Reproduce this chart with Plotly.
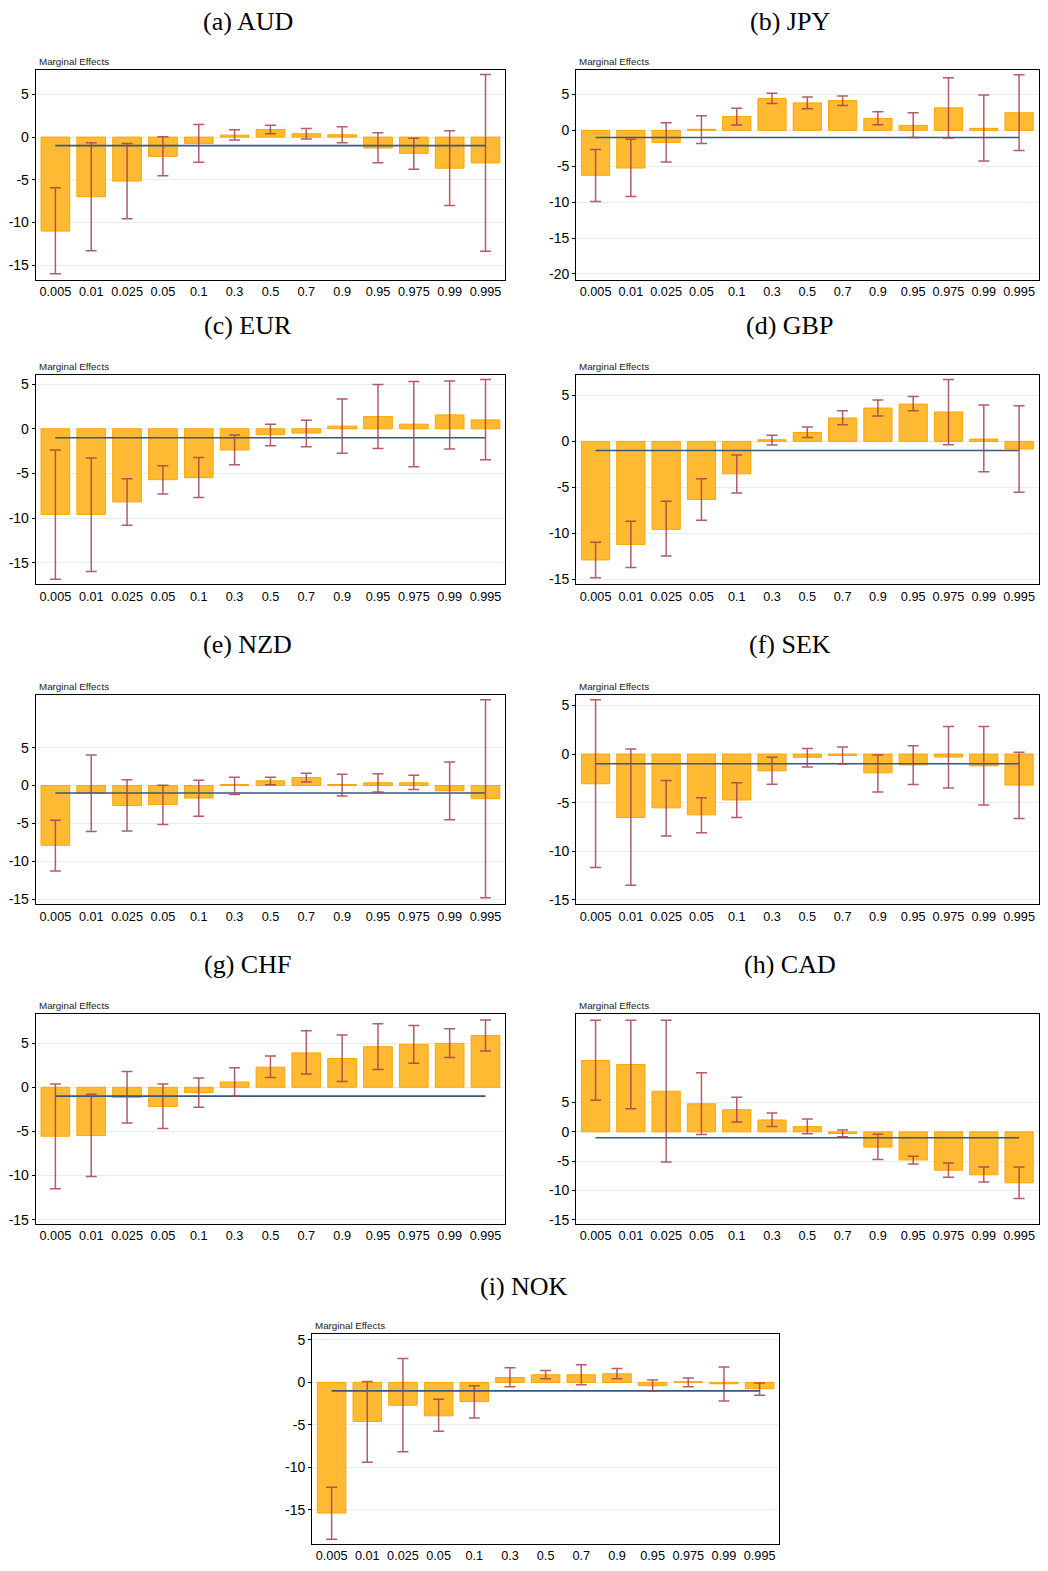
import plotly.graph_objects as go

# Quantiles on the x axis
quantiles = ['0.005', '0.01', '0.025', '0.05', '0.1', '0.3', '0.5',
             '0.7', '0.9', '0.95', '0.975', '0.99', '0.995']

# Marginal effects and confidence bounds
aud_me = [-11.0, -6.98, -5.15, -2.25, -0.74, 0.23, 0.89, 0.39, 0.27, -1.28, -1.9, -3.64, -3.02]
aud_lo = [-16.0, -13.3, -9.57, -4.53, -2.95, -0.35, 0.39, -0.23, -0.66, -3.0, -3.76, -8.02, -13.37]
aud_hi = [-5.93, -0.66, -0.74, 0.04, 1.47, 0.85, 1.40, 1.0, 1.2, 0.5, -0.12, 0.74, 7.33]

jpy_me = [-6.26, -5.25, -1.7, 0.14, 1.93, 4.42, 3.82, 4.14, 1.66, 0.69, 3.13, 0.28, 2.44]
jpy_lo = [-9.9, -9.2, -4.42, -1.84, 0.74, 3.73, 2.99, 3.45, 0.78, -1.01, -1.06, -4.28, -2.81]
jpy_hi = [-2.67, -1.24, 1.06, 2.03, 3.08, 5.16, 4.65, 4.79, 2.58, 2.44, 7.32, 4.93, 7.73]

eur_me = [-9.59, -9.59, -8.19, -5.7, -5.48, -2.37, -0.67, -0.48, 0.3, 1.37, 0.52, 1.56, 1.0]
eur_lo = [-16.85, -16.0, -10.81, -7.3, -7.7, -4.04, -1.89, -2.0, -2.74, -2.22, -4.26, -2.26, -3.48]
eur_hi = [-2.37, -3.26, -5.59, -4.15, -3.22, -0.7, 0.52, 0.96, 3.33, 4.96, 5.3, 5.37, 5.52]

gbp_me = [-12.91, -11.22, -9.57, -6.33, -3.53, 0.18, 0.97, 2.55, 3.63, 4.06, 3.2, 0.25, -0.83]
gbp_lo = [-14.86, -13.74, -12.48, -8.6, -5.61, -0.4, 0.43, 1.8, 2.77, 3.35, -0.36, -3.31, -5.54]
gbp_hi = [-10.97, -8.71, -6.51, -4.06, -1.47, 0.68, 1.58, 3.35, 4.5, 4.89, 6.73, 3.96, 3.88]

nzd_me = [-7.9, -1.0, -2.66, -2.53, -1.66, 0.13, 0.61, 1.05, 0.13, 0.35, 0.35, -0.7, -1.75]
nzd_lo = [-11.31, -6.07, -6.03, -5.15, -4.06, -1.18, 0.09, 0.44, -1.4, -0.87, -0.52, -4.54, -14.85]
nzd_hi = [-4.59, 4.02, 0.74, 0.04, 0.7, 1.09, 1.09, 1.62, 1.48, 1.53, 1.35, 3.1, 11.31]

sek_me = [-3.06, -6.53, -5.54, -6.26, -4.73, -1.73, -0.34, -0.14, -1.94, -1.12, -0.31, -1.22, -3.2]
sek_lo = [-11.67, -13.5, -8.44, -8.1, -6.53, -3.1, -1.33, -1.02, -3.91, -3.13, -3.5, -5.24, -6.63]
sek_hi = [5.58, 0.51, -2.72, -4.49, -2.96, -0.34, 0.58, 0.71, -0.1, 0.85, 2.82, 2.82, 0.17]

chf_me = [-5.54, -5.47, -1.16, -2.17, -0.6, 0.6, 2.28, 3.9, 3.26, 4.6, 4.87, 4.98, 5.88]
chf_lo = [-11.5, -10.1, -4.04, -4.68, -2.25, -1.01, 1.12, 1.5, 0.67, 2.02, 2.73, 3.37, 4.12]
chf_hi = [0.37, -0.79, 1.8, 0.37, 1.05, 2.21, 3.56, 6.4, 5.92, 7.19, 7.0, 6.63, 7.64]

cad_me = [12.17, 11.49, 6.93, 4.79, 3.77, 2.03, 0.9, -0.28, -2.59, -4.79, -6.54, -7.32, -8.68]
cad_lo = [5.41, 3.94, -5.13, -0.45, 1.69, 0.9, -0.34, -0.85, -4.73, -5.46, -7.72, -8.56, -11.38]
cad_hi = [19.04, 19.04, 19.04, 10.08, 5.92, 3.21, 2.2, 0.34, -0.39, -4.17, -5.3, -5.97, -5.97]

nok_me = [-15.4, -4.6, -2.69, -3.94, -2.26, 0.58, 0.9, 0.9, 1.01, -0.39, 0.08, -0.16, -0.74]
nok_lo = [-18.48, -9.4, -8.19, -5.77, -4.21, -0.51, 0.43, -0.27, 0.43, -1.01, -0.51, -2.18, -1.52]
nok_hi = [-12.36, 0.12, 2.81, -1.99, -0.39, 1.72, 1.4, 2.07, 1.64, 0.27, 0.51, 1.83, -0.08]

# Reference level drawn across each panel
baseline = -1.0

ytick_vals = [-20, -15, -10, -5, 0, 5]
ytick_text = ['-20', '-15', '-10', '-5', '0', '5']

panels = [
    ("(a) AUD", aud_me, aud_lo, aud_hi, [-16.7, 7.8]),
    ("(b) JPY", jpy_me, jpy_lo, jpy_hi, [-20.8, 8.33]),
    ("(c) EUR", eur_me, eur_lo, eur_hi, [-17.44, 6.07]),
    ("(d) GBP", gbp_me, gbp_lo, gbp_hi, [-15.58, 7.27]),
    ("(e) NZD", nzd_me, nzd_lo, nzd_hi, [-15.72, 11.92]),
    ("(f) SEK", sek_me, sek_lo, sek_hi, [-15.48, 6.05]),
    ("(g) CHF", chf_me, chf_lo, chf_hi, [-15.5, 8.28]),
    ("(h) CAD", cad_me, cad_lo, cad_hi, [-15.72, 20.06]),
    ("(i) NOK", nok_me, nok_lo, nok_hi, [-19.06, 5.69]),
]

# page body has an 8px margin, so the figure is a bit smaller than the window
OFF = 8
W, H = 1048 - 2 * OFF, 1571 - 2 * OFF


def px_x(x):
    return (x - OFF) / W


def px_y(y):
    return 1 - (y - OFF) / H


# plot boxes in page pixels: x0, x1, y0 (top), y1 (bottom), title centre x, title centre y
left_x = (35.7, 505.7)
right_x = (576.7, 1039.5)
rows_y = [(69, 280), (375.7, 587.3), (699, 910), (1020.7, 1232.3)]
title_y = [20, 326, 648, 971]
boxes = []
for r, (y0, y1) in enumerate(rows_y):
    boxes.append((left_x[0], left_x[1], y0, y1, 248, title_y[r]))
    boxes.append((right_x[0], right_x[1], y0, y1, 790.5, title_y[r]))
boxes.append((312.3, 780.0, 1343.3, 1555.0, 524.5, 1295))

fig = go.Figure()
annotations = []

for i, (name, me, lo, hi, yr) in enumerate(panels):
    x0, x1, y0, y1, tx, ty = boxes[i]
    n = '' if i == 0 else str(i + 1)
    xa, ya = 'x' + n, 'y' + n

    fig.add_trace(go.Bar(
        x=quantiles, y=me, xaxis=xa, yaxis=ya,
        marker=dict(color='rgba(255,182,40,0.95)', line=dict(color='#ffa500', width=1)),
        showlegend=False))

    fig.add_trace(go.Scatter(
        x=[quantiles[0], quantiles[-1]], y=[baseline, baseline], xaxis=xa, yaxis=ya,
        mode='lines', line=dict(color='#36597c', width=1.6), showlegend=False))

    fig.add_trace(go.Scatter(
        x=quantiles, y=me, xaxis=xa, yaxis=ya, mode='markers',
        marker=dict(size=1, opacity=0),
        error_y=dict(type='data', symmetric=False,
                     array=[h - m for h, m in zip(hi, me)],
                     arrayminus=[m - l for m, l in zip(me, lo)],
                     color='rgba(165,65,78,0.85)', thickness=1.5, width=5.5),
        showlegend=False))

    fig.update_layout({
        'xaxis' + n: dict(domain=[px_x(x0), min(px_x(x1), 1.0)], anchor=ya, type='category',
                          range=[-0.55, 12.55], showgrid=False, showline=True, mirror=True,
                          linecolor='black', linewidth=1, ticks='', zeroline=False,
                          tickfont=dict(family='Liberation Sans, Arial', size=12.7, color='black')),
        'yaxis' + n: dict(domain=[px_y(y1), px_y(y0)], anchor=xa, range=yr,
                          tickvals=ytick_vals, ticktext=ytick_text,
                          showgrid=True, gridcolor='#e3eef0', gridwidth=1,
                          showline=True, mirror=True, linecolor='black', linewidth=1,
                          ticks='outside', ticklen=3, tickcolor='black', zeroline=False,
                          tickfont=dict(family='Liberation Sans, Arial', size=14, color='black')),
    })

    annotations.append(dict(
        x=px_x(tx), y=px_y(ty), xref='paper', yref='paper', text=name, showarrow=False,
        xanchor='center', yanchor='middle',
        font=dict(family='Liberation Serif, DejaVu Serif', size=26, color='black')))
    annotations.append(dict(
        x=px_x(x0 + 1), y=px_y(y0 - 1), xref='paper', yref='paper',
        text='Marginal Effects', showarrow=False, xanchor='left', yanchor='bottom',
        font=dict(family='Liberation Sans, Arial', size=9.8, color='#222222')))

fig.update_layout(
    width=W, height=H,
    margin=dict(l=0, r=0, t=0, b=0),
    paper_bgcolor='white', plot_bgcolor='white',
    bargap=0.2,
    annotations=annotations,
)

fig.write_html("out.html")
